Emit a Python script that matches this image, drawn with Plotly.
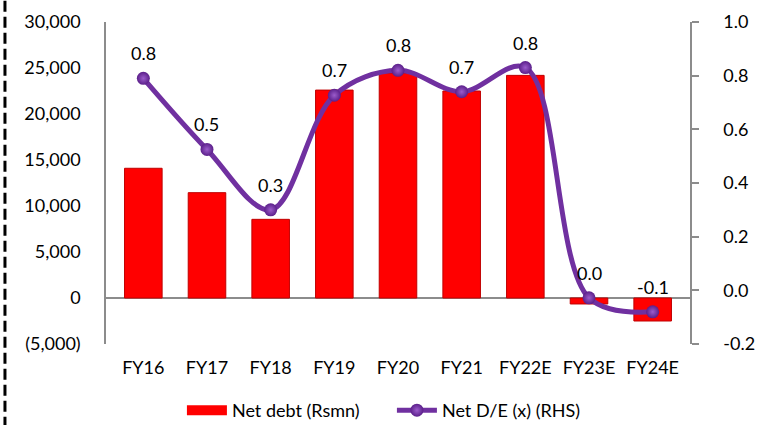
import plotly.graph_objects as go

categories = ["FY16", "FY17", "FY18", "FY19", "FY20", "FY21", "FY22E", "FY23E", "FY24E"]
net_debt = [14100, 11450, 8550, 22600, 24450, 22500, 24200, -650, -2500]
net_de = [0.79, 0.525, 0.30, 0.727, 0.82, 0.74, 0.83, -0.028, -0.08]

left_tickvals = [-5000, 0, 5000, 10000, 15000, 20000, 25000, 30000]
left_ticktext = ["(5,000)", "0", "5,000", "10,000", "15,000", "20,000", "25,000", "30,000"]
right_tickvals = [-0.2, 0.0, 0.2, 0.4, 0.6, 0.8, 1.0]
right_ticktext = ["-0.2", "0.0", "0.2", "0.4", "0.6", "0.8", "1.0"]

FONT = "Lato"
FS = 18
AXIS_COL = "#8C8C8C"
BAR_COL = "#FF0000"

def fmt(v):
    r = round(v, 1) + 0.0
    return f"{r:.1f}"

fig = go.Figure()
fig.add_trace(go.Bar(
    x=categories, y=net_debt, name="Net debt (Rsmn)", showlegend=False,
    marker=dict(color=BAR_COL, line=dict(color="#C00000", width=1)),
    width=0.59, yaxis="y",
))
# legend proxy for the bars (wide red rectangle like the reference)
fig.add_trace(go.Scatter(
    x=[None], y=[None], name="Net debt (Rsmn)", mode="lines",
    line=dict(color=BAR_COL, width=12), legendrank=1,
))
fig.add_trace(go.Scatter(
    x=categories, y=net_de, name="Net D/E (x) (RHS)", yaxis="y2",
    mode="lines+markers", legendrank=2,
    line=dict(color="#7030A0", width=5, shape="spline", smoothing=1.0),
    marker=dict(size=13, color="#5B1F8A",
                gradient=dict(type="radial", color="#9B5CCB")),
))

for c, v in zip(categories, net_de):
    fig.add_annotation(x=c, y=v, xref="x", yref="y2", text=fmt(v),
                       showarrow=False, yshift=25,
                       font=dict(family=FONT, size=FS, color="#000000"))

# dashed border line at left
fig.add_shape(type="line", xref="paper", yref="paper",
              x0=-0.173, x1=-0.173, y0=-0.26, y1=1.08,
              line=dict(color="#000000", width=3, dash="11px,5px"))

fig.update_layout(
    width=759, height=425,
    margin=dict(l=106, r=69, t=22, b=81, autoexpand=False),
    paper_bgcolor="white", plot_bgcolor="white",
    font=dict(family=FONT, size=FS, color="#000000"),
    showlegend=True,
    legend=dict(orientation="h", x=0.130, xanchor="left", y=-0.149, yanchor="top",
                font=dict(family=FONT, size=FS), itemwidth=40, entrywidth=155,
                traceorder="normal"),
    xaxis=dict(showline=False, showgrid=False, ticks="outside", ticklen=0,
               ticklabelstandoff=7, tickfont=dict(size=FS)),
    yaxis=dict(range=[-5000, 30000], tickvals=left_tickvals, ticktext=left_ticktext,
               showgrid=False, showline=True, linecolor=AXIS_COL, linewidth=1.5,
               zeroline=True, zerolinecolor=AXIS_COL, zerolinewidth=1.5,
               ticks="", ticklabelstandoff=20, tickfont=dict(size=FS)),
    yaxis2=dict(range=[-0.2, 1.0], tickvals=right_tickvals, ticktext=right_ticktext,
                overlaying="y", side="right", showgrid=False, zeroline=False,
                showline=True, linecolor=AXIS_COL, linewidth=1.5,
                ticks="outside", ticklen=7, tickcolor=AXIS_COL, tickwidth=1.5,
                ticklabelstandoff=21, tickfont=dict(size=FS)),
)

fig.write_html("out.html", config={"displayModeBar": False},
               post_script="document.body.style.margin='0';document.body.style.overflow='hidden';")
